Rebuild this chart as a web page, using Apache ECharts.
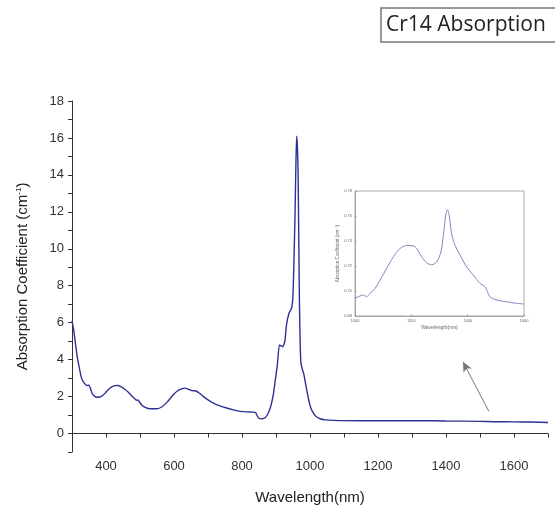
<!DOCTYPE html>
<html>
<head>
<meta charset="utf-8">
<script src="https://cdn.jsdelivr.net/npm/echarts@6/dist/echarts.min.js"></script>
<style>html,body{margin:0;padding:0;background:#fff}#c{width:555px;height:512px}</style>
</head>
<body>
<div id="c"></div>
<script>
// Main spectrum (nm, cm^-1)
const wavelength = [300,305,310,315,320,328,335,343,350,355,360,368,375,387,398,407,417,426,435,445,455,465,475,485,490,494,498,505,515,530,550,565,580,590,600,610,620,632,642,652,665,675,686,700,716,735,755,775,795,815,833,840,845,850,860,868,877,885,892,898,904,910,915,920,926,931,938,946,950,953,956,959,961,963,965,967,969,971,973,977,982,987,992,997,1003,1010,1018,1030,1045,1070,1100,1200,1300,1330,1400,1500,1540,1600,1650,1700];
const absorption = [6.1,5.6,4.9,4.2,3.7,3.0,2.75,2.6,2.62,2.4,2.15,2.0,1.96,2.01,2.2,2.38,2.52,2.59,2.6,2.53,2.4,2.25,2.05,1.88,1.8,1.82,1.72,1.55,1.42,1.34,1.34,1.45,1.7,1.92,2.14,2.3,2.4,2.46,2.4,2.32,2.3,2.18,2.01,1.82,1.65,1.5,1.38,1.28,1.2,1.17,1.16,1.14,0.95,0.82,0.8,0.85,1.1,1.5,2.1,2.9,3.73,4.8,4.75,4.7,5.0,5.9,6.5,6.8,7.5,9.5,11.9,15.0,16.1,15.5,14.1,10.5,7.0,5.0,3.9,3.5,3.2,2.7,2.2,1.75,1.35,1.1,0.92,0.8,0.74,0.71,0.7,0.69,0.69,0.7,0.68,0.66,0.64,0.63,0.62,0.6];
// Inset spectrum (zoom 1000-1600 nm)
const insetWavelength = [1000,1030,1041,1053,1071,1089,1112,1136,1160,1183,1207,1219,1237,1254,1272,1290,1305,1316,1323,1329,1335,1343,1355,1373,1396,1420,1444,1462,1479,1503,1538,1574,1600];
const insetAbsorption = [0.694,0.6968,0.6954,0.698,0.702,0.7087,0.718,0.7273,0.734,0.7364,0.7361,0.734,0.7273,0.7226,0.721,0.7233,0.7313,0.7486,0.762,0.7651,0.7593,0.746,0.7367,0.7287,0.7194,0.7127,0.706,0.7034,0.6954,0.6928,0.6914,0.6901,0.6896];
// Tick labels
const xTickLabels = [400,600,800,1000,1200,1400,1600];
const yTickLabels = [0,2,4,6,8,10,12,14,16,18];
const insetXTicks = [1000,1200,1400,1600];
const insetYTicks = [0.68,0.70,0.72,0.74,0.76,0.78];
// Arrow annotation (data coordinates)
const arrowFrom = [1526, 1.2];
const arrowTo = [1450, 3.88];

const chart = echarts.init(document.getElementById('c'), null, {renderer:'canvas'});
const axisCol = '#333';
const font = 'Liberation Sans, Arial, sans-serif';
const mainData = wavelength.map((w,i)=>[w, absorption[i]]);
const insetData = insetWavelength.map((w,i)=>[w, insetAbsorption[i]]);
const plain = v => String(v);

chart.setOption({
  animation:false,
  backgroundColor:'#fff',
  title:{
    text:'Cr14 Absorption', left:381, top:8,
    borderColor:'#777', borderWidth:1.5, padding:[7,12,6,5],
    textStyle:{fontFamily:'Open Sans, Noto Sans, sans-serif', fontSize:21, fontWeight:'normal', color:'#222'}
  },
  grid:[
    {left:72, right:7, top:101, bottom:60},
    {left:355, top:191, width:169, height:125, show:true, borderColor:'#aaa', borderWidth:1}
  ],
  xAxis:[
    {gridIndex:0, type:'value', min:300, max:1700, interval:100,
     name:'Wavelength(nm)', nameLocation:'middle', nameGap:38,
     nameTextStyle:{fontFamily:font, fontSize:15, color:'#222'},
     axisLine:{lineStyle:{color:axisCol, width:1}},
     axisTick:{length:4, lineStyle:{color:axisCol}},
     axisLabel:{formatter:v => xTickLabels.includes(v) ? String(v) : '',
       fontFamily:font, fontSize:13, color:'#333', margin:8, showMinLabel:true, showMaxLabel:true},
     splitLine:{show:false}},
    {gridIndex:1, type:'value', min:1000, max:1600, interval:200,
     name:'Wavelength(nm)', nameLocation:'middle', nameGap:9,
     nameTextStyle:{fontFamily:font, fontSize:5, color:'#666'},
     axisLine:{lineStyle:{color:'#999', width:0.8}},
     axisTick:{length:1.5, inside:true, lineStyle:{color:'#999'}},
     axisLabel:{formatter:plain, fontFamily:font, fontSize:4, color:'#666', margin:3},
     splitLine:{show:false}}
  ],
  yAxis:[
    {gridIndex:0, type:'value', min:-1, max:18, interval:1,
     name:'{a|Absorption Coefficient (cm}{s|-1}{a|)}', nameLocation:'middle', nameGap:41, nameRotate:90,
     nameTextStyle:{rich:{
       a:{fontFamily:font, fontSize:15, color:'#222'},
       s:{fontFamily:font, fontSize:8, color:'#222', verticalAlign:'top', padding:[0,0,8,0]}
     }},
     axisLine:{show:true, lineStyle:{color:axisCol, width:1}},
     axisTick:{show:true, length:4, lineStyle:{color:axisCol}},
     axisLabel:{formatter:v => yTickLabels.includes(v) ? String(v) : '',
       fontFamily:font, fontSize:13, color:'#333', margin:8},
     splitLine:{show:false}},
    {gridIndex:1, type:'value', min:0.68, max:0.78, interval:0.02,
     name:'Absorption Coefficient (cm⁻¹)', nameLocation:'middle', nameGap:14, nameRotate:90,
     nameTextStyle:{fontFamily:font, fontSize:4.5, color:'#666'},
     axisLine:{show:true, lineStyle:{color:'#999', width:0.8}},
     axisTick:{show:true, length:1.5, inside:true, lineStyle:{color:'#999'}},
     axisLabel:{fontFamily:font, fontSize:4, color:'#666', margin:3,
       formatter:v => insetYTicks.some(t => Math.abs(t - v) < 1e-6) ? v.toFixed(2) : ''},
     splitLine:{show:false}}
  ],
  series:[
    {type:'line', xAxisIndex:0, yAxisIndex:0, data:mainData, showSymbol:false, smooth:0.2,
     lineStyle:{color:'#2e3192', width:1.4},
     markLine:{silent:true, symbol:['none','arrow'], symbolSize:[7,10],
       lineStyle:{color:'#777', width:1, type:'solid'}, label:{show:false},
       data:[[{coord:arrowFrom},{coord:arrowTo}]]}},
    {type:'line', xAxisIndex:1, yAxisIndex:1, data:insetData, showSymbol:false, smooth:0.3,
     lineStyle:{color:'#8088c0', width:1}}
  ]
});
</script>
</body>
</html>
